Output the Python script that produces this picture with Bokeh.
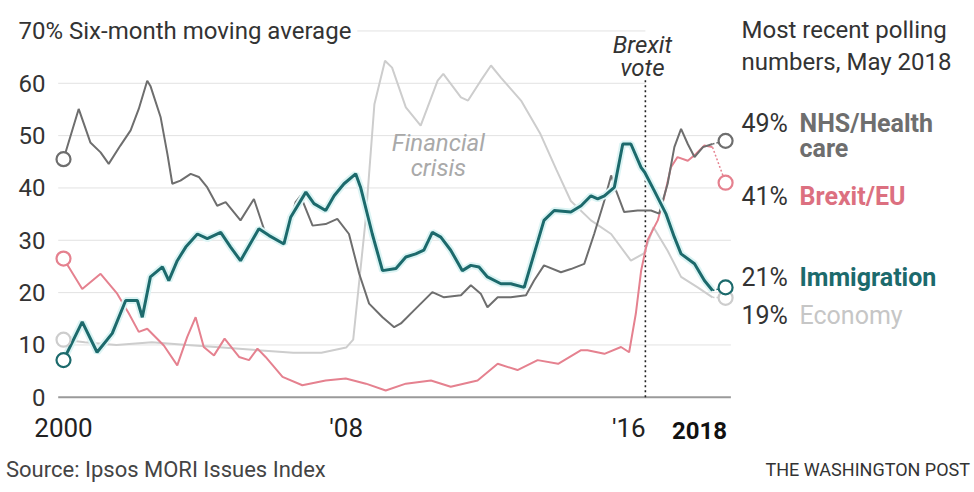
from bokeh.plotting import figure
from bokeh.models import Label, FixedTicker, Range1d, LinearAxis, Div
from bokeh.layouts import column
from bokeh.embed import file_html
from bokeh.resources import INLINE

# ---------------- data (six-month moving averages, % naming issue) ----------------
nhs_x = [2000.00, 2000.43, 2000.76, 2001.05, 2001.28, 2001.61, 2001.90, 2002.13, 2002.37, 2002.46,
         2002.75, 2002.94, 2003.08, 2003.31, 2003.60, 2003.83, 2004.07, 2004.35, 2004.59, 2005.01,
         2005.39, 2005.72, 2006.24, 2006.57, 2006.71, 2007.05, 2007.42, 2007.75, 2008.08, 2008.37,
         2008.65, 2009.03, 2009.36, 2009.55, 2009.92, 2010.44, 2010.77, 2011.25, 2011.53, 2011.81,
         2012.00, 2012.29, 2012.66, 2013.09, 2013.32, 2013.60, 2014.08, 2014.36, 2014.74, 2015.02,
         2015.31, 2015.50, 2015.64, 2015.87, 2016.25, 2016.63, 2016.86, 2017.10, 2017.29, 2017.48,
         2017.67, 2017.86, 2018.10, 2018.37]
nhs_y = [45.5, 55.1, 48.7, 46.8, 44.6, 48.1, 51.0, 55.1, 60.5, 59.5,
         53.5, 46.5, 40.8, 41.4, 42.7, 42.1, 40.1, 36.6, 37.3, 33.8,
         37.9, 31.2, 29.3, 37.3, 38.5, 32.8, 33.1, 34.1, 31.2, 23.6,
         17.9, 15.3, 13.4, 14.1, 16.6, 20.1, 19.1, 19.5, 21.4, 19.8,
         17.2, 19.1, 19.1, 19.5, 22.3, 25.2, 23.9, 24.5, 25.5, 31.2,
         37.6, 42.4, 39.5, 35.4, 35.7, 35.7, 35.1, 40.8, 47.8, 51.3,
         48.4, 45.9, 47.8, 48.4]

imm_x = [2000.00, 2000.53, 2000.95, 2001.38, 2001.76, 2002.09, 2002.23, 2002.46, 2002.80, 2002.98,
         2003.22, 2003.46, 2003.79, 2004.07, 2004.45, 2004.73, 2005.01, 2005.53, 2005.82, 2006.24,
         2006.43, 2006.86, 2007.09, 2007.42, 2007.66, 2007.94, 2008.27, 2008.41, 2008.74, 2009.03,
         2009.41, 2009.69, 2009.97, 2010.20, 2010.44, 2010.68, 2010.96, 2011.29, 2011.53, 2011.76,
         2012.00, 2012.38, 2012.66, 2013.04, 2013.32, 2013.60, 2013.89, 2014.36, 2014.65, 2014.93,
         2015.12, 2015.31, 2015.59, 2015.83, 2016.06, 2016.35, 2016.45, 2016.72, 2017.05, 2017.29,
         2017.48, 2017.86, 2018.14, 2018.37]
imm_y = [7.1, 14.4, 8.6, 12.2, 18.5, 18.5, 15.3, 23.0, 24.9, 22.3,
         26.1, 28.7, 31.2, 30.3, 31.5, 28.7, 26.1, 32.2, 30.9, 29.3,
         34.4, 39.2, 37.0, 35.7, 38.5, 40.8, 42.7, 40.1, 31.2, 24.2,
         24.6, 26.8, 27.4, 28.1, 31.5, 30.6, 28.1, 24.2, 25.2, 24.9,
         23.0, 21.7, 21.7, 21.0, 27.4, 33.8, 35.7, 35.4, 36.6, 38.5,
         37.9, 38.5, 40.1, 48.4, 48.4, 43.9, 43.0, 39.5, 35.1, 30.6,
         27.4, 25.5, 22.3, 20.4]

eu_x = [2000.00, 2000.53, 2001.05, 2001.52, 2001.85, 2002.13, 2002.37, 2002.84, 2003.22, 2003.50,
        2003.74, 2003.97, 2004.26, 2004.56, 2004.97, 2005.25, 2005.49, 2005.72, 2006.20, 2006.76,
        2007.42, 2007.99, 2008.56, 2009.12, 2009.69, 2010.40, 2010.96, 2011.72, 2012.29, 2012.85,
        2013.42, 2014.00, 2014.65, 2014.83, 2015.31, 2015.78, 2016.01, 2016.20, 2016.35, 2016.53,
        2016.82, 2017.00, 2017.19, 2017.38, 2017.67, 2017.90, 2018.14, 2018.37]
eu_y = [26.5, 20.7, 23.6, 19.8, 16.0, 12.5, 13.1, 9.9, 6.1, 11.5,
        15.3, 9.6, 8.0, 11.2, 7.7, 7.1, 9.3, 7.7, 3.9, 2.3,
        3.2, 3.6, 2.6, 1.3, 2.6, 3.2, 2.0, 3.2, 6.4, 5.2,
        7.1, 6.4, 9.0, 9.0, 8.3, 9.6, 8.6, 16.0, 24.2, 30.0,
        33.8, 38.2, 43.9, 45.9, 45.2, 46.5, 48.1, 47.8]

eco_x = [2000.00, 2000.60, 2001.50, 2002.50, 2003.50, 2004.50, 2005.50, 2006.50, 2007.30, 2008.00,
         2008.20, 2008.55, 2008.80, 2009.10, 2009.30, 2009.69, 2010.11, 2010.59, 2010.75, 2011.25,
         2011.45, 2011.81, 2012.10, 2012.38, 2012.95, 2013.50, 2013.95, 2014.36, 2014.93, 2015.50,
         2016.06, 2016.43, 2016.70, 2017.10, 2017.48, 2017.95, 2018.37]
eco_y = [11.0, 10.5, 10.0, 10.5, 10.0, 9.5, 9.0, 8.5, 8.5, 9.5,
         11.0, 33.8, 56.0, 64.3, 63.0, 55.4, 51.9, 60.5, 61.8, 57.3,
         56.7, 60.5, 63.4, 61.1, 56.7, 50.3, 43.5, 37.5, 33.8, 31.2,
         26.1, 27.5, 32.5, 28.0, 23.0, 21.0, 19.1]

# most recent single-month polling numbers, May 2018
latest_labels = ["NHS/Health", "Brexit/EU", "Immigration", "Economy"]
latest_vals = [49, 41, 21, 19]

x_ticks = [2000, 2008, 2016]
x_tick_labels = {2000: "2000", 2008: "'08", 2016: "'16"}
x_bold_tick = [2018]
y_ticks = [0, 10, 20, 30, 40, 50, 60, 70]
grid_ticks = [10, 20, 30, 40, 50, 60, 70]
brexit_vote = 2016.47

# ---------------- styling ----------------
C_NHS = "#6e6e6e"
C_EU = "#e5818f"
C_IMM = "#1c6a6c"
C_ECO = "#cdcdcd"
FONT = "Roboto"
PX_PER_YEAR = 35.33

W, H = 974, 492
FRAME_LEFT = 44
x_start = 2000 - (63 - FRAME_LEFT) / PX_PER_YEAR
frame_w = W - FRAME_LEFT
x_end = x_start + frame_w / PX_PER_YEAR
MAIN_TOP, FRAME_H, MAIN_BOTTOM = 20, 382, 50
FOOT_H = H - (MAIN_TOP + FRAME_H + MAIN_BOTTOM)

p = figure(frame_width=frame_w, frame_height=FRAME_H,
           min_border_left=FRAME_LEFT, min_border_right=0, min_border_top=MAIN_TOP,
           min_border_bottom=MAIN_BOTTOM,
           x_range=Range1d(x_start, x_end), y_range=Range1d(-1, 72),
           output_backend="svg", toolbar_location=None)
p.outline_line_color = None
p.background_fill_color = "white"
p.border_fill_color = "white"
p.xgrid.grid_line_color = None
p.ygrid.grid_line_color = None

p.yaxis.ticker = FixedTicker(ticks=y_ticks)
p.yaxis.axis_line_color = None
p.yaxis.major_tick_line_color = None
p.yaxis.minor_tick_line_color = None
p.yaxis.major_label_standoff = -7
p.yaxis.major_label_text_font = FONT
p.yaxis.major_label_text_font_size = "24px"
p.yaxis.major_label_text_color = "#333333"

p.xaxis.ticker = FixedTicker(ticks=x_ticks)
p.xaxis.major_label_overrides = x_tick_labels
p.xaxis.axis_line_color = None
p.xaxis.major_tick_line_color = None
p.xaxis.minor_tick_line_color = None
p.xaxis.major_label_standoff = 4
p.xaxis.major_label_text_font = FONT
p.xaxis.major_label_text_font_size = "26px"
p.xaxis.major_label_text_color = "#222222"

# second (bold) x axis for the final year, pulled up onto the same row
ax2 = LinearAxis(ticker=FixedTicker(ticks=x_bold_tick), axis_line_color=None,
                 major_tick_line_color=None, minor_tick_line_color=None,
                 major_label_standoff=-30, major_label_text_font=FONT,
                 major_label_text_font_size="24px", major_label_text_font_style="bold",
                 major_label_text_color="#111111")
p.add_layout(ax2, "below")

# gridlines and baseline (stop at the right edge of the data area)
first_year = min(nhs_x)
circle_gap = 0.37
data_right = max(nhs_x) + circle_gap
gx0 = [first_year - 0.15] * len(grid_ticks)
gx1 = [brexit_vote if t >= 60 else data_right + 0.15 for t in grid_ticks]
p.segment(x0=gx0, y0=grid_ticks, x1=gx1, y1=grid_ticks, line_color="#e2e2e2", line_width=1)
p.segment(x0=[first_year - 0.15], y0=[0], x1=[data_right + 0.15], y1=[0],
          line_color="#9a9a9a", line_width=2)

# title next to 70
p.add_layout(Label(x=x_start, y=70, x_offset=1, text="%  Six-month moving average",
                   text_baseline="middle", text_font=FONT, text_font_size="24px",
                   text_color="#333333", background_fill_color="white"))

# Brexit vote marker
p.segment(x0=[brexit_vote], y0=[0], x1=[brexit_vote], y1=[61], line_color="#222222",
          line_width=1.6, line_dash="2 3")
for txt, yy in (("Brexit", 67.3), ("vote", 62.9)):
    p.add_layout(Label(x=brexit_vote, y=yy, x_offset=-3, text=txt, text_align="center",
                       text_baseline="middle", text_font=FONT, text_font_size="24px",
                       text_font_style="italic", text_color="#333333"))

# Financial crisis annotation
for txt, yy in (("Financial", 48.5), ("crisis", 43.8)):
    p.add_layout(Label(x=2010.61, y=yy, text=txt, text_align="center", text_baseline="middle",
                       text_font=FONT, text_font_size="24px", text_font_style="italic",
                       text_color="#a9a9a9"))

# lines
p.line(eco_x, eco_y, line_color=C_ECO, line_width=2)
p.line(eu_x, eu_y, line_color=C_EU, line_width=2)
p.line(nhs_x, nhs_y, line_color=C_NHS, line_width=2)
p.line(imm_x, imm_y, line_color="#dcf4f4", line_width=7)
p.line(imm_x, imm_y, line_color=C_IMM, line_width=3)

# start circles
series = [(nhs_x, nhs_y, C_NHS), (eu_x, eu_y, C_EU), (imm_x, imm_y, C_IMM), (eco_x, eco_y, C_ECO)]
for xs, ys, c in series:
    p.scatter([xs[0]], [ys[0]], size=14, fill_color="white", line_color=c, line_width=2.2)

# latest-value circles, set slightly to the right of line ends with leaders
for (xs, ys, c), v in zip(reversed(series), reversed(latest_vals)):
    cx = xs[-1] + circle_gap
    p.line([xs[-1], cx], [ys[-1], v], line_color=c, line_width=1.5, line_dash="2 2")
    p.scatter([cx], [v], size=14, fill_color="white", line_color=c, line_width=2.2)

# right-hand labels
PCT_DX = 741 - FRAME_LEFT
NAME_DX = 799 - FRAME_LEFT


def rlabel(text, yy, dx, color="#333333", bold=False, size="24px"):
    p.add_layout(Label(x=x_start, y=yy, x_offset=dx, text=text, text_baseline="middle",
                       text_font=FONT, text_font_size=size,
                       text_font_style="bold" if bold else "normal", text_color=color))


rlabel("Most recent polling", 70.1, PCT_DX)
rlabel("numbers, May 2018", 64.0, PCT_DX)
label_y = [52.4, 38.4, 22.9, 15.7]
colors = [C_NHS, "#dc7080", C_IMM, "#c6c6c6"]
for name, v, yy, c in zip(latest_labels, latest_vals, label_y, colors):
    rlabel(f"{v}%", yy, PCT_DX, size="25px")
    if name == "NHS/Health":
        rlabel("NHS/Health", yy, NAME_DX, color=c, bold=True, size="25px")
        rlabel("care", yy - 4.8, NAME_DX, color=c, bold=True, size="25px")
    else:
        rlabel(name, yy, NAME_DX, color=c, bold=(name != "Economy"), size="25px")

# footer (plain text row under the chart)
source_text = "Source: Ipsos MORI Issues Index"
credit_text = "THE WASHINGTON POST"
foot_html = (
    f'<div style="display:flex;justify-content:space-between;align-items:center;'
    f'width:{W}px;height:36px;box-sizing:border-box;padding:0 4px 0 6px;'
    f'font-family:Roboto,sans-serif;color:#444444;">'
    f'<span style="font-size:22px;">{source_text}</span>'
    f'<span style="font-size:18px;color:#333333;">{credit_text}</span></div>'
)
foot = Div(text=foot_html, width=W, height=FOOT_H, margin=0)

layout = column(p, foot, spacing=0)
open("out.html", "w").write(file_html(layout, INLINE))
